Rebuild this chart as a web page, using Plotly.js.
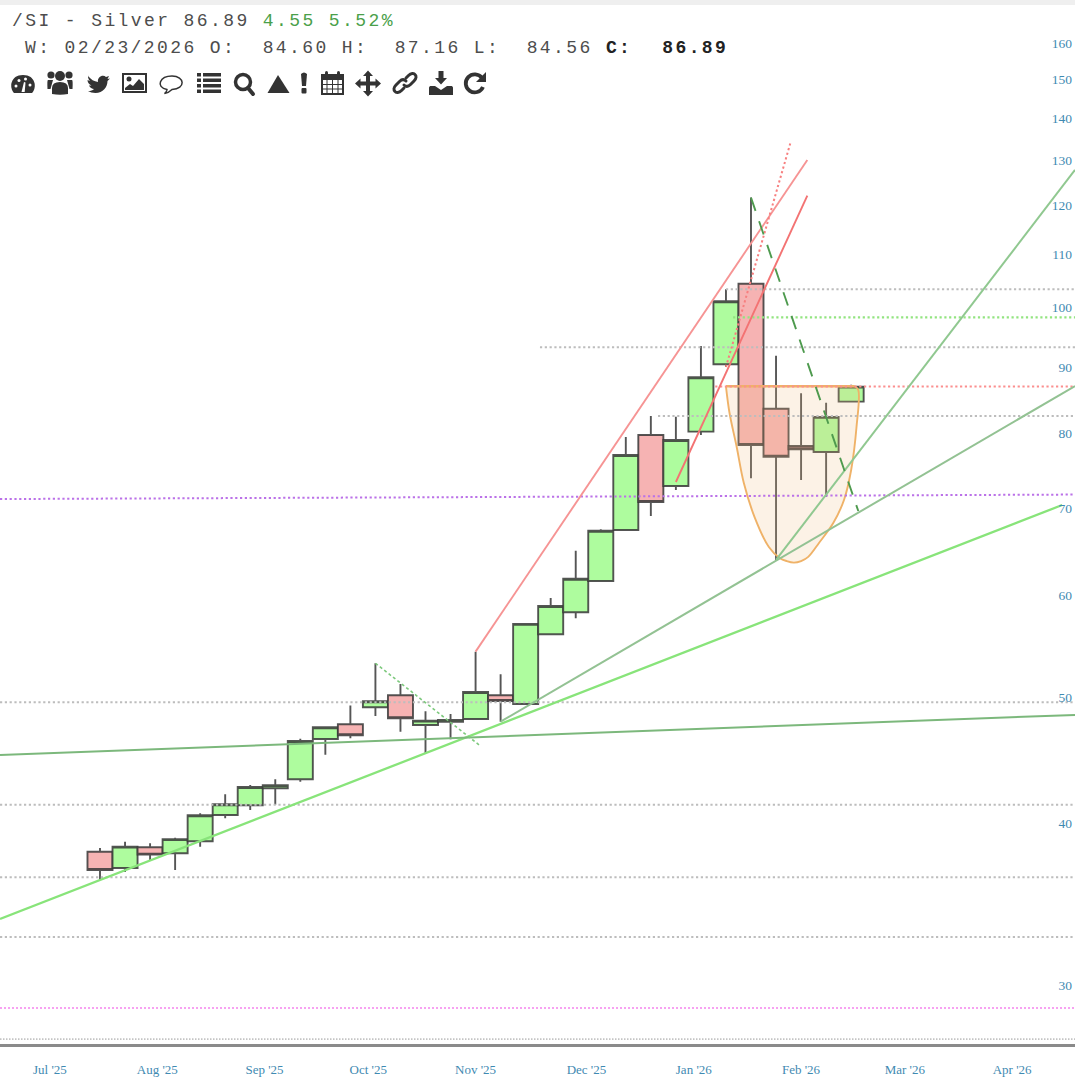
<!DOCTYPE html>
<html>
<head>
<meta charset="utf-8">
<script src="https://cdn.plot.ly/plotly-3.0.1.min.js"></script>
<style>
html,body{margin:0;padding:0;background:#fff}
#chart{width:1075px;height:1080px}
.annotation-text{letter-spacing:2.4px}
</style>
</head>
<body>
<div id="chart"></div>
<script>
// Weekly OHLC
const weeks = ['2025-07-28','2025-08-04','2025-08-11','2025-08-18','2025-08-25','2025-09-01','2025-09-08','2025-09-15','2025-09-22','2025-09-29','2025-10-06','2025-10-13','2025-10-20','2025-10-27','2025-11-03','2025-11-10','2025-11-17','2025-11-24','2025-12-01','2025-12-08','2025-12-15','2025-12-22','2025-12-29','2026-01-05','2026-01-12','2026-01-19','2026-01-26','2026-02-02','2026-02-09','2026-02-16','2026-02-23'];
const opens  = [38.02,36.93,38.32,37.91,38.73,40.58,41.29,42.55,43.24,46.45,47.68,49.15,50.20,47.62,47.90,48.13,50.20,49.43,55.95,58.18,61.51,67.34,79.73,72.82,80.20,90.40,104.32,83.54,78.19,77.36,84.60];
const highs  = [38.27,38.70,38.59,38.98,40.70,42.10,42.80,43.24,46.48,47.48,49.29,53.14,51.22,48.80,48.56,54.25,52.11,57.09,59.68,64.91,67.42,79.45,82.47,82.37,93.39,103.29,121.57,91.79,85.86,84.44,87.16];
const lows   = [36.15,36.67,37.42,36.80,38.36,40.34,40.94,41.33,43.05,45.17,46.51,48.39,47.06,45.29,46.43,48.05,47.90,49.37,55.90,57.57,61.51,67.34,69.04,72.30,79.73,89.97,73.82,63.85,73.60,71.45,84.56];
const closes = [36.80,38.36,37.82,38.88,40.56,41.36,42.65,42.78,46.29,47.43,46.76,49.67,48.19,47.99,48.05,50.50,49.70,56.99,58.84,61.76,67.26,76.95,70.78,79.03,88.34,101.11,78.33,76.71,77.73,82.34,86.89];

// Axis ticks
const priceTicks = [30,40,50,60,70,80,90,100,110,120,130,140,150,160];
const monthTickDates = ['2025-07-14','2025-08-13','2025-09-12','2025-10-11','2025-11-10','2025-12-11','2026-01-10','2026-02-09','2026-03-10','2026-04-09'];
const monthTickLabels = ["Jul '25","Aug '25","Sep '25","Oct '25","Nov '25","Dec '25","Jan '26","Feb '26","Mar '26","Apr '26"];
const xStart = '2025-06-30 01:00';
const xEnd = '2026-04-26 14:00';

// Horizontal levels drawn across the whole chart
const greyLevelsFull = [49.58,41.33,36.33,32.67];
const floorLevel = 27.25;
const pinkLevel = 28.80;
const purpleLevelY = [71.15,71.72];
// Levels that begin part way across
const greyLevelsPart = [103.29,93.17,82.47];
const greyLevelStarts = ['2026-01-19','2025-11-28','2025-12-31'];
const greenLevel = 98.27;
const greenLevelStart = '2026-01-21';
const redLevel = 86.90;
const redLevelStart = '2026-01-16';

// Trend lines
const supportX = [xStart,'2026-04-23'];
const supportY = [33.73,70.40];
const flatX = [xStart,xEnd];
const flatY = [45.15,48.48];
const fanLowX = ['2025-11-17',xEnd];
const fanLowY = [47.90,86.98];
const fanHighX = ['2026-02-02',xEnd];
const fanHighY = [63.85,127.70];
const channelTopX = ['2025-11-10','2026-02-10 18:00'];
const channelTopY = [54.25,129.99];
const channelLowX = ['2026-01-05','2026-02-10 18:00'];
const channelLowY = [73.34,122.00];
const steepX = ['2026-01-19','2026-02-06'];
const steepY = [89.97,133.92];
const downBigX = ['2026-01-26','2026-02-25'];
const downBigY = [121.57,69.65];
const downSmallX = ['2025-10-13','2025-11-11'];
const downSmallY = [53.14,45.96];

// Rounded bowl and the rim across its top
const bowlX = ['2026-01-19','2026-01-20','2026-01-22','2026-01-24','2026-01-27','2026-01-31','2026-02-03','2026-02-05','2026-02-07','2026-02-09','2026-02-11','2026-02-14','2026-02-18','2026-02-21','2026-02-23','2026-02-24 12:00','2026-02-25','2026-02-24'];
const bowlY = [86.94,82.91,78.05,73.21,68.91,65.34,64.08,63.72,63.55,63.72,64.20,65.81,68.18,71.03,74.92,80.87,86.36,86.94];
const bowlRimX = ['2026-01-19','2026-02-24'];
const bowlRimY = [86.94,86.94];

const lineTrace = (x,y,color,width,dash) => ({type:'scatter',mode:'lines',x,y,hoverinfo:'skip',showlegend:false,line:{color,width,dash:dash||'solid'}});
const GREY = '#bdbdbd', DOTS = '2.2px,2.6px';

const traces = [
 {type:'candlestick',x:weeks,open:opens,high:highs,low:lows,close:closes,whiskerwidth:0,showlegend:false,hoverinfo:'skip',
  increasing:{line:{color:'rgba(55,55,55,0.85)',width:1.9},fillcolor:'#aefc9e'},
  decreasing:{line:{color:'rgba(55,55,55,0.85)',width:1.9},fillcolor:'#f6b3b3'}},
 {type:'scatter',mode:'lines',x:bowlX,y:bowlY,fill:'toself',fillcolor:'rgba(238,190,130,0.2)',hoverinfo:'skip',showlegend:false,
  line:{color:'#efb268',width:1.9,shape:'spline',smoothing:1}},
 lineTrace(bowlRimX,bowlRimY,'#efb268',2.4),
];
greyLevelsFull.forEach(v => traces.push(lineTrace([xStart,xEnd],[v,v],GREY,2,DOTS)));
traces.push(lineTrace([xStart,xEnd],[floorLevel,floorLevel],'#c4c4c4',1.8,'1.5px,1.5px'));
traces.push(lineTrace([xStart,xEnd],[pinkLevel,pinkLevel],'#f7a2f2',2,'2px,2px'));
traces.push(lineTrace([xStart,xEnd],purpleLevelY,'#bb72e8',2,'2.2px,2.6px'));
greyLevelsPart.forEach((v,i) => traces.push(lineTrace([greyLevelStarts[i],xEnd],[v,v],GREY,2,DOTS)));
traces.push(lineTrace([greenLevelStart,xEnd],[greenLevel,greenLevel],'#93e480',2.2,'2.2px,2.6px'));
traces.push(lineTrace([redLevelStart,xEnd],[redLevel,redLevel],'#fb8f8f',2.2,'2.2px,2.6px'));
traces.push(lineTrace(supportX,supportY,'#88e47a',2.3));
traces.push(lineTrace(flatX,flatY,'#7cb87c',2));
traces.push(lineTrace(fanLowX,fanLowY,'#93c293',2));
traces.push(lineTrace(fanHighX,fanHighY,'#90c890',2));
traces.push(lineTrace(channelTopX,channelTopY,'#f69494',1.9));
traces.push(lineTrace(channelLowX,channelLowY,'#f37373',1.9));
traces.push(lineTrace(steepX,steepY,'#f77f7f',2,'2.2px,2.6px'));
traces.push(lineTrace(downBigX,downBigY,'#4e9a4e',1.9,'14px,11px'));
traces.push(lineTrace(downSmallX,downSmallY,'#7dc97d',1.6,'3px,2.6px'));

const PLOT_H = 1044;
const py = p => 1 - p/PLOT_H;

const icons = `<svg xmlns="http://www.w3.org/2000/svg" width="490" height="30" viewBox="0 0 490 30"><g fill="#333" stroke="none">
<path d="M14 25C9 20 10 7 23 7C36 7 37 20 32 25Z"/>
<g fill="#fff"><circle cx="16" cy="18" r="1.5"/><circle cx="19" cy="12.5" r="1.5"/><circle cx="25.5" cy="11" r="1.5"/><circle cx="30" cy="17" r="1.5"/><path d="M21.5 24L24 14L25.5 14.5L24.7 24Z"/></g>
<circle cx="60" cy="8" r="5"/><circle cx="51" cy="7" r="3.6"/><circle cx="69" cy="7" r="3.6"/>
<path d="M52 26V20Q52 14 60 14Q68 14 68 20V26Q60 27.5 52 26Z"/><path d="M48 12H53L50.5 21H47.5Q47 12 48 12ZM72 12H67L69.5 21H72.5Q73 12 72 12Z"/>
<path d="M88 8c3 3.500 6 5.500 10 6c-1-5 5-8 8-5l3-1-1.500 3 2.500-.6-2.500 2.700c0 6-4.500 12-12 12c-3 0-5.500-1-7.500-2c3 0 4.500-.5 6-2c-2 0-4-1.500-5-3.500h2.500c-2.500-1-4-3-4-5.500l2.500.8c-2-2-2.500-4.500-1.500-6z"/>
<path fill-rule="evenodd" d="M122 5H147V25H122ZM124 7V23H145V7Z"/><circle cx="129" cy="11" r="2.500"/><path d="M125 22V20L130 16L133 18L139 11L144 16V22Z"/>
<path fill="none" stroke="#333" stroke-width="1.5" d="M167 21.500C155 19 160 8 172 8C185 8 186 21 172 21.500C170 23.500 168 25 164.500 25.500C166 24.500 167 23 167 21.500Z"/>
<path d="M197 5h4v3.600h-4zM203 5h18v3.600h-18zM197 10.500h4v3.600h-4zM203 10.500h18v3.600h-18zM197 16h4v3.600h-4zM203 16h18v3.600h-18zM197 21.500h4v3.600h-4zM203 21.500h18v3.600h-18z"/>
<circle cx="243" cy="14" r="7.500" fill="none" stroke="#333" stroke-width="3.500"/><path d="M248 20L253 26" stroke="#333" stroke-width="4" stroke-linecap="round"/>
<path d="M278 7L289.500 25H267.500Z"/>
<path d="M301 6Q304 3 307 6L306 18H302Z"/><rect x="301.500" y="20" width="5" height="5.500" rx="1"/>
<path fill-rule="evenodd" d="M321 6H344V27H321ZM323 12V25H342V12Z"/><rect x="325" y="3" width="3" height="7" rx="1.500"/><rect x="337" y="3" width="3" height="7" rx="1.500"/>
<path stroke="#333" stroke-width="1" d="M327 12V25M332.500 12V25M338 12V25M323 16.500H342M323 21H342"/>
<path d="M368 2.500L373 8H370V13.500H375.500V10.500L381 15.500L375.500 20.500V17.500H370V23H373L368 28.500L363 23H366V17.500H360.500V20.500L355 15.500L360.500 10.500V13.500H366V8H363Z"/>
<g fill="none" stroke="#333" stroke-width="3" stroke-linecap="round"><path d="M406 10L408.500 7.500C411 5 414 5 415 6.500C416.500 8 416.500 10.500 414 13L410.500 16.500C408 19 405.500 18.500 404 17"/><path d="M404 20L401.500 22.500C399 25 396 25 395 23.500C393.500 22 393.500 19.500 396 17L399.500 13.500C402 11 404.500 11.500 406 13"/></g>
<path d="M438.500 3H443.500V10H447L441 16.500L435 10H438.500Z"/><path d="M429 20C429 18.500 430 18 431 18H435L441 22L447 18H451C452 18 453 18.500 453 20V27H429Z"/>
<path fill="none" stroke="#333" stroke-width="3.800" d="M482 10A9 9 0 1 0 483 19"/><path d="M486 4V14H476Z"/>
</g></svg>`;

const layout = {
 width:1075,height:1080,margin:{l:0,r:0,t:0,b:36,pad:0},paper_bgcolor:'#fff',plot_bgcolor:'#fff',showlegend:false,hovermode:false,
 boxgap:0,boxgroupgap:0,boxmode:'overlay',
 xaxis:{type:'date',range:[xStart,xEnd],rangeslider:{visible:false},showgrid:false,zeroline:false,showline:true,linecolor:'#8a8a8a',linewidth:3,
  tickmode:'array',tickvals:monthTickDates,ticktext:monthTickLabels,ticks:'outside',ticklen:11,tickcolor:'rgba(0,0,0,0)',
  tickfont:{family:'"Liberation Serif",serif',size:13,color:'#3f8ab2'},tickangle:0},
 yaxis:{type:'log',side:'right',range:[1.43158,2.23734],showgrid:false,zeroline:false,showline:false,
  tickmode:'array',tickvals:priceTicks,ticktext:priceTicks.map(String),ticks:'',ticklabelposition:'inside',
  tickfont:{family:'"Liberation Serif",serif',size:13.5,color:'#3f8ab2'}},
 shapes:[{type:'rect',xref:'paper',yref:'paper',x0:0,x1:1,y0:py(5),y1:1,fillcolor:'#efefef',line:{width:0},layer:'below'}],
 images:[{source:'data:image/svg+xml;charset=utf-8,'+encodeURIComponent(icons),xref:'paper',yref:'paper',x:0,y:py(68),sizex:490/1075,sizey:30/PLOT_H,xanchor:'left',yanchor:'top',sizing:'stretch',layer:'above'}],
 annotations:[
  {xref:'paper',yref:'paper',x:11/1075,y:py(21),xanchor:'left',yanchor:'middle',showarrow:false,borderpad:0,
   font:{family:'"Liberation Mono",monospace',size:18,color:'#4d4d4d'},
   text:'/SI - Silver 86.89 <span style="color:#4a9f4a">4.55 5.52%</span>'},
  {xref:'paper',yref:'paper',x:24/1075,y:py(48),xanchor:'left',yanchor:'middle',showarrow:false,borderpad:0,
   font:{family:'"Liberation Mono",monospace',size:18,color:'#4d4d4d'},
   text:'W: 02/23/2026 O:\u00A0\u00A084.60 H:\u00A0\u00A087.16 L:\u00A0\u00A084.56 <b style="color:#222">C:\u00A0\u00A0\u200A86.89</b>'}
 ]
};
Plotly.newPlot('chart',traces,layout,{displayModeBar:false,staticPlot:true});
</script>
</body>
</html>
